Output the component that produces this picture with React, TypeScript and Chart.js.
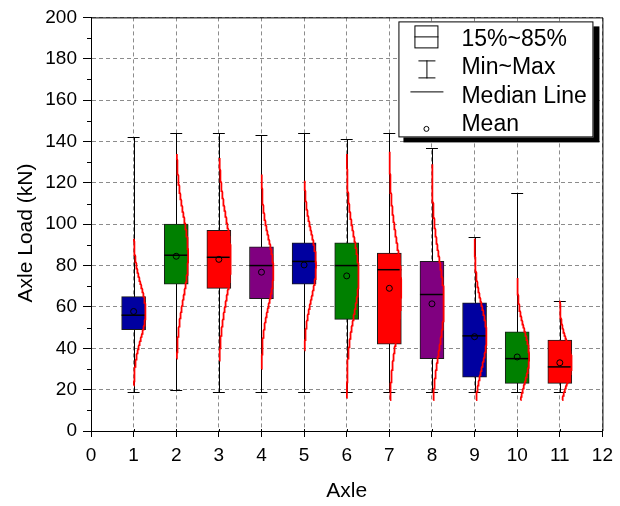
import React, { useEffect, useRef } from 'react';
import { Chart, registerables } from 'chart.js';

Chart.register(...registerables);

// ---------- data ----------
const axles = [1, 2, 3, 4, 5, 6, 7, 8, 9, 10, 11];
const q15 = [49, 71, 69, 64, 71, 54, 42, 35, 26, 23, 23];
const q85 = [65, 100, 97, 89, 91, 91, 86, 82, 62, 48, 44];
const medians = [56, 85, 84, 80, 82, 80, 78, 66, 46, 35, 31];
const means = [57.8, 84.5, 83, 76.8, 80.3, 75, 69, 61.5, 45.6, 35.8, 33];
const mins = [19, 20, 19, 19, 19, 19, 19, 19, 19, 19, 19];
const maxs = [142, 144, 144, 143, 144, 141, 144, 137, 94, 115, 63];
// fitted normal distribution curves (mean, sd, drawn range)
const fitMean = [57.8, 84.5, 83, 77, 80, 75, 69, 61.5, 45.6, 35.8, 33];
const fitSd = [13, 20, 20, 16, 16, 19, 23, 22, 15, 13, 10];
const fitLo = [22, 35, 34, 30, 39, 16, 15, 15, 15, 15, 15];
const fitHi = [93, 134, 132, 124, 121, 134, 135, 129, 93, 74, 63];
const boxColors = ['#0000a0', '#008000', '#ff0000', '#800080', '#0000a0', '#008000', '#ff0000', '#800080', '#0000a0', '#008000', '#ff0000'];
const legendLabels = ['15%~85%', 'Min~Max', 'Median Line', 'Mean'];
const xTitle = 'Axle';
const yTitle = 'Axle Load (kN)';

// ---------- styling constants ----------
const FONT = 'Arial, "Liberation Sans", sans-serif';
const BOX_PX = 24;
const CAP_HALF = 0.14;
const CURVE_W = 0.28;

function curvePoints(i: number) {
  const pts: { x: number; y: number }[] = [];
  const m = fitMean[i], s = fitSd[i];
  for (let v = fitLo[i]; v <= fitHi[i] + 1e-9; v += 0.5) {
    pts.push({ x: axles[i] + CURVE_W * Math.exp(-((v - m) * (v - m)) / (2 * s * s)), y: v });
  }
  return pts;
}

const extrasPlugin = {
  id: 'extras',
  beforeDatasetsDraw(chart: any) {
    const { ctx, scales } = chart;
    const x = scales.x, y = scales.y;
    ctx.save();
    ctx.strokeStyle = '#000';
    ctx.lineWidth = 1;
    axles.forEach((a, i) => {
      const px = Math.round(x.getPixelForValue(a)) + 0.5;
      const y0 = Math.round(y.getPixelForValue(mins[i])) + 0.5;
      const y1 = Math.round(y.getPixelForValue(maxs[i])) + 0.5;
      const cl = x.getPixelForValue(a - CAP_HALF);
      const cr = x.getPixelForValue(a + CAP_HALF);
      ctx.beginPath();
      ctx.moveTo(px, y0); ctx.lineTo(px, y1);
      ctx.moveTo(cl, y0); ctx.lineTo(cr, y0);
      ctx.moveTo(cl, y1); ctx.lineTo(cr, y1);
      ctx.stroke();
    });
    ctx.restore();
  },
  afterDatasetDraw(chart: any, args: any) {
    if (args.index !== 0) return;
    const { ctx, scales } = chart;
    const x = scales.x, y = scales.y;
    ctx.save();
    ctx.strokeStyle = '#000';
    ctx.lineWidth = 1.5;
    axles.forEach((a, i) => {
      const px = x.getPixelForValue(a);
      const py = y.getPixelForValue(medians[i]);
      ctx.beginPath();
      ctx.moveTo(px - BOX_PX / 2, py);
      ctx.lineTo(px + BOX_PX / 2, py);
      ctx.stroke();
    });
    ctx.restore();
  },
  afterDraw(chart: any) {
    const { ctx, scales, chartArea } = chart;
    const x = scales.x, y = scales.y;
    const L = chartArea.left, R = chartArea.right, T = chartArea.top, B = chartArea.bottom;
    ctx.save();
    // frame
    ctx.strokeStyle = '#000';
    ctx.lineWidth = 1;
    ctx.beginPath();
    ctx.moveTo(L, T + 0.5); ctx.lineTo(R + 0.5, T + 0.5); ctx.lineTo(R + 0.5, B);
    ctx.stroke();
    // minor y ticks
    ctx.beginPath();
    for (let v = 10; v < 200; v += 20) {
      const py = Math.round(y.getPixelForValue(v)) + 0.5;
      ctx.moveTo(L - 4, py); ctx.lineTo(L, py);
    }
    // inward part of x ticks
    for (let v = 0; v <= 12; v++) {
      const px = Math.round(x.getPixelForValue(v)) + 0.5;
      ctx.moveTo(px, B); ctx.lineTo(px, B - 2);
    }
    ctx.stroke();
    // y title
    ctx.fillStyle = '#000';
    ctx.font = `21px ${FONT}`;
    ctx.textAlign = 'center';
    ctx.textBaseline = 'middle';
    ctx.translate(26, 233);
    ctx.rotate(-Math.PI / 2);
    ctx.fillText(yTitle, 0, 0);
    ctx.restore();

    // legend
    ctx.save();
    const lx = R - 204, ly = T + 4, lw = 195, lh = 116;
    ctx.fillStyle = '#000';
    ctx.fillRect(lx + 5, ly + 5, lw + 1, lh);
    ctx.fillStyle = '#fff';
    ctx.fillRect(lx, ly, lw, lh);
    ctx.strokeStyle = '#000';
    ctx.lineWidth = 1;
    ctx.strokeRect(lx + 0.5, ly + 0.5, lw - 1, lh - 1);
    const ix = lx + 28; // icon center
    // box icon
    ctx.strokeRect(ix - 12 + 0.5, ly + 4.5, 23, 22);
    ctx.beginPath(); ctx.moveTo(ix - 12, ly + 15.5); ctx.lineTo(ix + 12, ly + 15.5); ctx.stroke();
    // min~max icon
    ctx.beginPath();
    ctx.moveTo(ix + 0.5, ly + 39); ctx.lineTo(ix + 0.5, ly + 57);
    ctx.moveTo(ix - 8, ly + 39.5); ctx.lineTo(ix + 9, ly + 39.5);
    ctx.moveTo(ix - 8, ly + 56.5); ctx.lineTo(ix + 9, ly + 56.5);
    ctx.stroke();
    // median icon
    ctx.beginPath(); ctx.moveTo(ix - 16, ly + 70.5); ctx.lineTo(ix + 17, ly + 70.5); ctx.stroke();
    // mean icon
    ctx.beginPath(); ctx.arc(ix, ly + 107.5, 2.5, 0, Math.PI * 2); ctx.stroke();
    ctx.fillStyle = '#000';
    ctx.font = `23px ${FONT}`;
    ctx.textAlign = 'left';
    ctx.textBaseline = 'alphabetic';
    legendLabels.forEach((t, k) => {
      ctx.fillText(t, lx + 63, ly + 24.5 + k * 28.3);
    });
    ctx.restore();
  },
};

export default function App() {
  const ref = useRef<HTMLCanvasElement | null>(null);
  useEffect(() => {
    document.body.style.margin = '0';
    const canvas = ref.current;
    if (!canvas) return;
    const datasets: any[] = [
      {
        type: 'bar',
        label: 'box',
        data: axles.map((a, i) => ({ x: a, y: [q15[i], q85[i]] })),
        backgroundColor: boxColors,
        borderColor: '#1a1a1a',
        borderWidth: 1,
        borderSkipped: false,
        barThickness: BOX_PX,
        order: 3,
      },
      ...axles.map((a, i) => ({
        type: 'line',
        label: 'fit' + a,
        data: curvePoints(i),
        borderColor: '#ff0000',
        borderWidth: 1.8,
        pointRadius: 0,
        fill: false,
        tension: 0,
        order: 2,
      })),
      {
        type: 'scatter',
        label: 'mean',
        data: axles.map((a, i) => ({ x: a, y: means[i] })),
        pointStyle: 'circle',
        pointRadius: 3,
        borderColor: '#000',
        borderWidth: 1,
        backgroundColor: 'rgba(0,0,0,0)',
        order: 1,
      },
    ];
    const chart = new Chart(canvas, {
      type: 'bar',
      data: { datasets },
      options: {
        responsive: false,
        animation: false,
        devicePixelRatio: 1,
        layout: { padding: { left: 0, right: 14, top: 15, bottom: 0 } },
        plugins: { legend: { display: false }, tooltip: { enabled: false } },
        scales: {
          x: {
            type: 'linear',
            min: 0,
            max: 12,
            offset: false,
            afterFit: (s: any) => { s.height = 75; },
            ticks: { stepSize: 1, color: '#000', font: { size: 19, family: FONT }, padding: 7, maxRotation: 0, autoSkip: false },
            grid: { color: '#8c8c8c', tickColor: '#000', tickLength: 6, offset: false },
            border: { color: '#000', width: 1, dash: [4, 3] },
            title: { display: true, text: xTitle, color: '#000', font: { size: 21, family: FONT }, padding: { top: 0, bottom: 2 } },
          },
          y: {
            type: 'linear',
            min: 0,
            max: 200,
            afterFit: (s: any) => { s.width = 91; },
            ticks: { stepSize: 20, color: '#000', font: { size: 19, family: FONT }, padding: 6 },
            grid: { color: '#8c8c8c', tickColor: '#000', tickLength: 8 },
            border: { color: '#000', width: 1, dash: [4, 3] },
          },
        },
      } as any,
      plugins: [extrasPlugin],
    });
    return () => chart.destroy();
  }, []);
  return (
    <div style={{ width: 620, height: 506 }}>
      <canvas ref={ref} width={620} height={506} style={{ width: 620, height: 506, display: 'block' }} />
    </div>
  );
}
